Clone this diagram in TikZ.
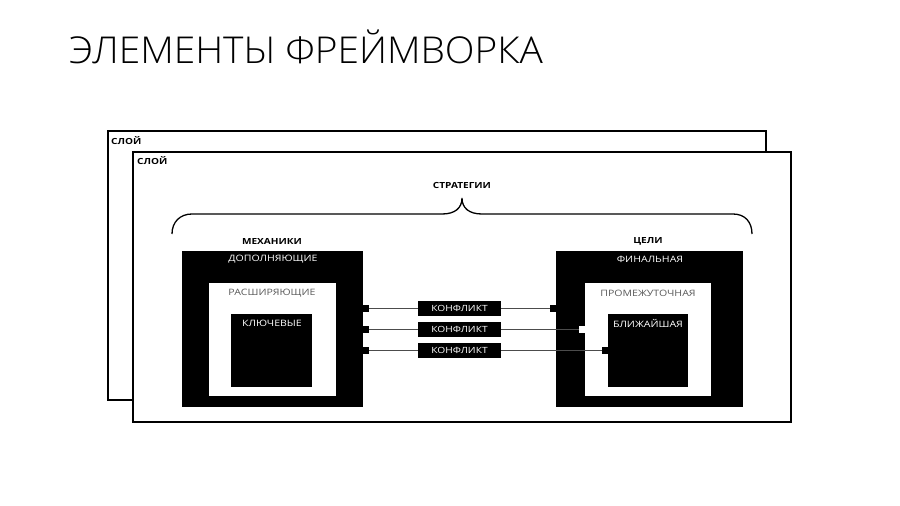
\documentclass[tikz,border=0pt]{standalone}
\usepackage{fontspec}
\setmainfont{Open Sans}
\IfFontExistsTF{Open Sans Light}
  {\newfontfamily\titlefont[FakeStretch=1.05]{Open Sans Light}}
  {\newfontfamily\titlefont[FakeStretch=1.05]{Open Sans}}
\newfontfamily\labelfont[FakeStretch=1.2]{Open Sans}
\usetikzlibrary{arrows.meta}

\begin{document}
\begin{tikzpicture}[x=1pt,y=-1pt,
    layer/.style={draw=black, line width=1.4pt, fill=white},
    blackbox/.style={fill=black, anchor=north west, inner sep=0pt, outer sep=0pt},
    whitebox/.style={fill=white, anchor=north west, inner sep=0pt, outer sep=0pt},
    caption/.style={font=\labelfont\bfseries\fontsize{8.4}{9}\selectfont, inner sep=0pt},
    intext/.style={font=\labelfont\fontsize{8.8}{9}\selectfont, inner sep=0pt},
    conflict/.style={fill=black, text=white, minimum width=83pt, minimum height=15pt,
        inner sep=0pt, outer sep=0pt, font=\labelfont\fontsize{8.5}{9}\selectfont},
    link/.style={draw=black!70, line width=1pt},
    sqfrom/.style={{Square[color=#1,length=6pt,width=7pt]}-},
    sqto/.style={-{Square[color=#1,length=6pt,width=7pt]}}]
    \useasboundingbox (0,0) rectangle (900,506);

    \node[anchor=base west, inner sep=0pt, font=\titlefont\fontsize{37}{40}\selectfont]
        (title) at (69,63) {ЭЛЕМЕНТЫ ФРЕЙМВОРКА};

    % layers
    \draw[layer] (108,131) rectangle (766,400);
    \node[caption, anchor=west] (layerback) at (111,141) {СЛОЙ};
    \draw[layer] (133,152) rectangle (791,422);
    \node[caption, anchor=west] (layerfront) at (137,161) {СЛОЙ};

    % strategies
    \node[caption] (strat) at (462,185) {СТРАТЕГИИ};
    \draw[line width=1.3pt] (172,234) .. controls (172,222) and (180,214) .. (192,214)
        -- (442,214) .. controls (455,214) and (462,208) .. (462,198)
        .. controls (462,208) and (469,214) .. (482,214)
        -- (733,214) .. controls (745,214) and (752,222) .. (752,234);

    % mechanics
    \node[caption] (mechcap) at (272,241) {МЕХАНИКИ};
    \node[blackbox, minimum width=181pt, minimum height=156pt] (mech) at (182,251) {};
    \node[whitebox, minimum width=127pt, minimum height=113pt] (ext) at (209,283) {};
    \node[blackbox, minimum width=81pt, minimum height=73pt] (key) at (231,314) {};
    \node[intext, text=white] at (273,259) {ДОПОЛНЯЮЩИЕ};
    \node[intext, text=black!65] at (272,293) {РАСШИРЯЮЩИЕ};
    \node[intext, text=white] at (272,323) {КЛЮЧЕВЫЕ};

    % goals
    \node[caption] (goalcap) at (648,241) {ЦЕЛИ};
    \node[blackbox, minimum width=187pt, minimum height=156pt] (fin) at (556,251) {};
    \node[whitebox, minimum width=126pt, minimum height=113pt] (mid) at (585,283) {};
    \node[blackbox, minimum width=80pt, minimum height=73pt] (near) at (608,314) {};
    \node[intext, text=white] at (650,259) {ФИНАЛЬНАЯ};
    \node[intext, text=black!65] at (648,293) {ПРОМЕЖУТОЧНАЯ};
    \node[intext, text=white] at (648,323) {БЛИЖАЙШАЯ};

    % conflicts
    \node[conflict] (c1) at (459.5,308) {КОНФЛИКТ};
    \node[conflict] (c2) at (459.5,329) {КОНФЛИКТ};
    \node[conflict] (c3) at (459.5,350) {КОНФЛИКТ};

    \draw[link, sqfrom=black] (mech.east |- c1) -- (c1);
    \draw[link, sqto=black] (c1) -- (fin.west |- c1);
    \draw[link, sqfrom=black] (mech.east |- c2) -- (c2);
    \draw[link, sqto=white] (c2) -- (mid.west |- c2);
    \draw[link, sqfrom=black] (mech.east |- c3) -- (c3);
    \draw[link, sqto=black] (c3) -- (near.west |- c3);
\end{tikzpicture}
\end{document}
